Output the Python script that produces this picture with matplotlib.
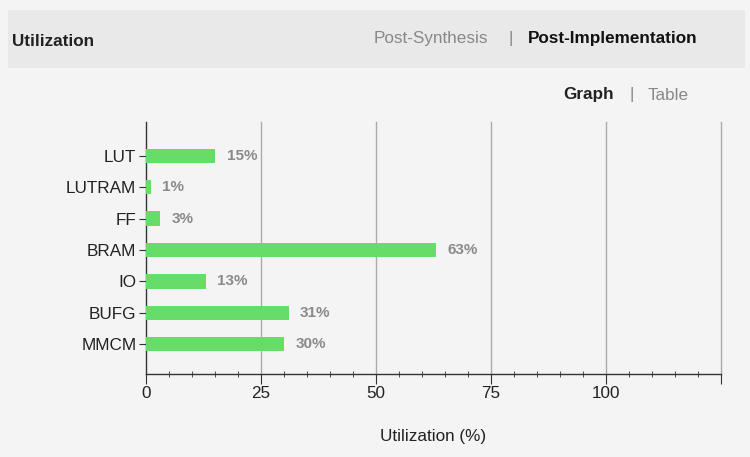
import matplotlib
matplotlib.use("Agg")
import matplotlib.pyplot as plt
from matplotlib.patches import Rectangle
from matplotlib.ticker import MultipleLocator

plt.rcParams['font.family'] = ['Liberation Sans', 'DejaVu Sans']

categories = ["LUT", "LUTRAM", "FF", "BRAM", "IO", "BUFG", "MMCM"]
values = [15, 1, 3, 63, 13, 31, 30]
labels = ["15%", "1%", "3%", "63%", "13%", "31%", "30%"]
xticks = [0, 25, 50, 75, 100, 125]
xticklabels = ["0", "25", "50", "75", "100", ""]

bg = '#f4f4f4'
fs = 12.3
fig = plt.figure(figsize=(7.5, 4.57), dpi=100, facecolor=bg)

# header band
fig.patches.append(Rectangle((8/750, 1-68/457), 737/750, 58/457, transform=fig.transFigure,
                             facecolor='#e9e9e9', edgecolor='none', zorder=0))
fig.text(12/750, 1-41/457, "Utilization", fontsize=fs, fontweight='bold', color='#222222',
         va='center', ha='left')
fig.text(488/750, 1-38/457, "Post-Synthesis", fontsize=fs, color='#888888', va='center', ha='right')
fig.text(511/750, 1-38/457, "|", fontsize=fs, color='#888888', va='center', ha='center')
fig.text(528/750, 1-38/457, "Post-Implementation", fontsize=fs, fontweight='bold', color='#111111',
         va='center', ha='left')
fig.text(614/750, 1-95/457, "Graph", fontsize=fs, fontweight='bold', color='#222222', va='center', ha='right')
fig.text(632/750, 1-95/457, "|", fontsize=fs, color='#888888', va='center', ha='center')
fig.text(648/750, 1-95/457, "Table", fontsize=fs, color='#888888', va='center', ha='left')

ax = fig.add_axes([146/750, 1-374/457, 575/750, 252/457])
ax.set_facecolor(bg)
ypos = list(range(len(categories)))
ax.barh(ypos, values, height=0.46, color='#66dd66', zorder=3)
for y, v, lab in zip(ypos, values, labels):
    ax.text(v + 2.5, y, lab, va='center', ha='left', fontsize=11, fontweight='bold', color='#8a8a8a', zorder=4)

ax.set_xlim(0, 125)
ax.set_ylim(6.95, -1.08)
ax.set_yticks(ypos)
ax.set_yticklabels(categories, fontsize=fs, color='#222222')
ax.set_xticks(xticks)
ax.set_xticklabels(xticklabels, fontsize=fs, color='#222222')
ax.xaxis.set_minor_locator(MultipleLocator(5))
ax.tick_params(axis='x', which='major', direction='out', length=7, color='#333333', pad=2)
ax.tick_params(axis='x', which='minor', direction='inout', length=5, color='#333333')
ax.tick_params(axis='y', which='major', direction='out', length=5, color='#333333', pad=2)

for gx in [25, 50, 75, 100, 125]:
    ax.axvline(gx, color='#aaaaaa', linewidth=1.0, zorder=1, clip_on=False)

for s in ['top', 'right']:
    ax.spines[s].set_visible(False)
for s in ['left', 'bottom']:
    ax.spines[s].set_color('#333333')
    ax.spines[s].set_linewidth(1.0)

ax.set_xlabel("Utilization (%)", fontsize=fs, color='#222222', labelpad=20)

fig.savefig("out.png", dpi=100, facecolor=bg)
